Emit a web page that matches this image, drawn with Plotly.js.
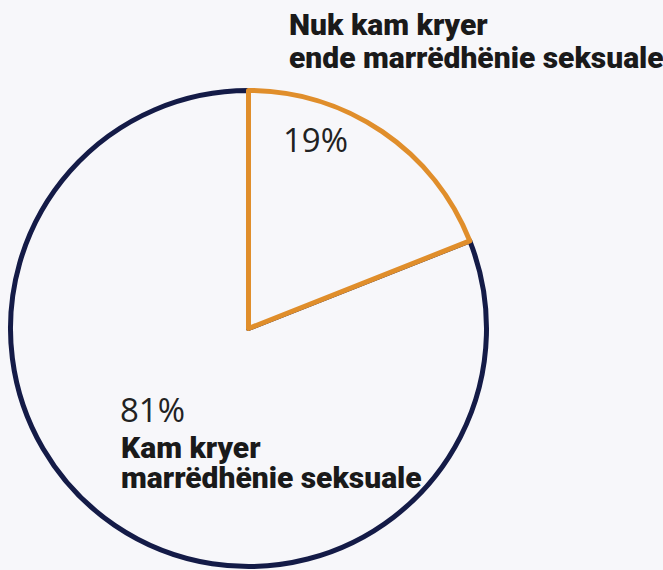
<!DOCTYPE html>
<html>
<head>
<meta charset="utf-8">
<script src="https://cdn.plot.ly/plotly-3.0.1.min.js"></script>
<style>
html,body{margin:0;padding:0;background:#f7f7fa;}
#chart{width:663px;height:570px;}
</style>
</head>
<body>
<div id="chart"></div>
<script>
// Data
const labels = ["Kam kryer marrëdhënie seksuale", "Nuk kam kryer ende marrëdhënie seksuale"];
const labelLines = [["Kam kryer", "marrëdhënie seksuale"], ["Nuk kam kryer", "ende marrëdhënie seksuale"]];
const values = [81, 19];
const lineColors = ["#141b47", "#e08e2b"];

const W = 663, H = 570;
const px = x => x / W;
const py = y => 1 - y / H;

const bg = "#f7f7fa";
const boldFont = {family: "Roboto, sans-serif", size: 30, color: "#1a1a1a", weight: 900};
const pctFont = {family: "'Open Sans', 'Noto Sans', sans-serif", size: 33, color: "#222222"};

const annotations = [
  // 19% slice
  {x: px(281), y: py(139.5), text: values[1] + "%", font: pctFont},
  {x: px(287), y: py(24.5), text: labelLines[1][0], font: boldFont},
  {x: px(287), y: py(57.5), text: labelLines[1][1], font: boldFont},
  // 81% slice
  {x: px(118), y: py(409), text: values[0] + "%", font: pctFont},
  {x: px(119), y: py(447.5), text: labelLines[0][0], font: boldFont},
  {x: px(119), y: py(477.5), text: labelLines[0][1], font: boldFont}
].map(a => Object.assign({xref: "paper", yref: "paper", xanchor: "left", yanchor: "middle", showarrow: false}, a));

const trace = {
  type: "pie",
  labels: labels,
  values: values,
  sort: false,
  direction: "clockwise",
  rotation: 68.4,
  textinfo: "none",
  hoverinfo: "label+percent",
  marker: {colors: [bg, bg], line: {color: lineColors, width: 5}},
  domain: {x: [10.5 / W, 486.5 / W], y: [3.5 / H, 479.5 / H]},
  showlegend: false
};

const layout = {
  width: W, height: H,
  margin: {l: 0, r: 0, t: 0, b: 0},
  paper_bgcolor: bg,
  plot_bgcolor: bg,
  showlegend: false,
  annotations: annotations
};

Plotly.newPlot("chart", [trace], layout, {displayModeBar: false, staticPlot: true});
</script>
</body>
</html>
